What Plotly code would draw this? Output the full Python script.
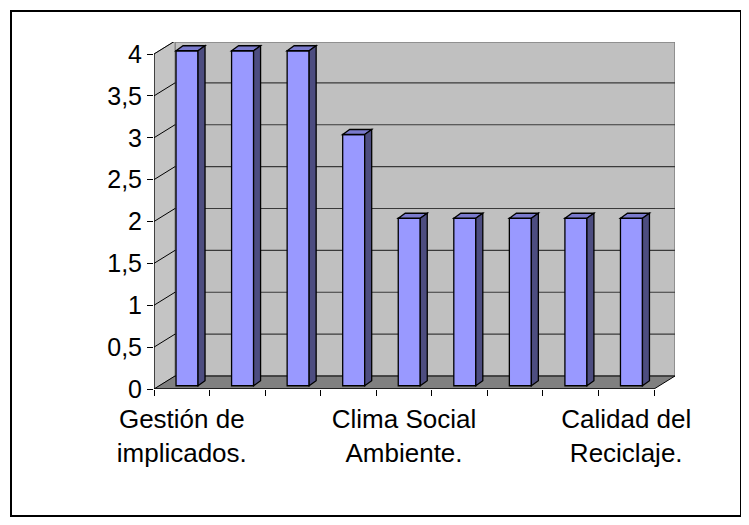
import plotly.graph_objects as go

# ---------------- data ----------------
values = [4, 4, 4, 3, 2, 2, 2, 2, 2]
label_positions = [0, 4, 8]
label_texts = ["Gestión de<br>implicados.", "Clima Social<br>Ambiente.", "Calidad del<br>Reciclaje."]
y_tick_values = [0, 0.5, 1, 1.5, 2, 2.5, 3, 3.5, 4]
y_tick_labels = ["0", "0,5", "1", "1,5", "2", "2,5", "3", "3,5", "4"]

# ---------------- geometry / style ----------------
# the page body has an 8px margin, so the figure is placed at (8, 8)
W, H = 741, 517
ML, MT = 146, 34
PW, PH = 521, 347
MR, MB = W - ML - PW, H - MT - PH
N = len(values)
FRONT_PX = 500.0                 # front axis length in px
XS = FRONT_PX / N                # px per category
YS = 83.75                       # px per value unit
X_MIN = -0.5
X_MAX = X_MIN + PW / XS
Y_MAX = PH / YS
YMAXV = max(y_tick_values)

WALL_DX, WALL_DY = 21 / XS, 13 / YS      # depth of the 3D box
BAR_F = 0.25                              # bar position inside depth
BAR_OX, BAR_OY = BAR_F * WALL_DX, BAR_F * WALL_DY
BAR_W = 22 / XS
BAR_DX, BAR_DY = 7 / XS, 5 / YS

C_FRONT, C_TOP, C_SIDE = "#9999FF", "#7A7ACC", "#4D4D80"
C_WALL, C_SIDEWALL, C_FLOOR = "#C0C0C0", "#C4C4C4", "#808080"
FONT = "Arial, Liberation Sans, sans-serif"


def poly(pts):
    return "M " + " L ".join(f"{x},{y}" for x, y in pts) + " Z"


shapes = []
# back wall
shapes.append(dict(type="rect", xref="x", yref="y", layer="below",
                   x0=X_MIN + WALL_DX, x1=X_MAX, y0=WALL_DY, y1=Y_MAX,
                   fillcolor=C_WALL, line=dict(color="#808080", width=1.5)))
# back wall gridlines
for v in y_tick_values[1:-1]:
    shapes.append(dict(type="line", xref="x", yref="y", layer="below",
                       x0=X_MIN + WALL_DX, x1=X_MAX, y0=v + WALL_DY, y1=v + WALL_DY,
                       line=dict(color="#3a3a3a", width=1.2)))
# side wall
shapes.append(dict(type="path", xref="x", yref="y", layer="below",
                   path=poly([(X_MIN, 0), (X_MIN, YMAXV), (X_MIN + WALL_DX, YMAXV + WALL_DY),
                              (X_MIN + WALL_DX, WALL_DY)]),
                   fillcolor=C_SIDEWALL, line=dict(color="#808080", width=1)))
for v in y_tick_values[1:]:
    shapes.append(dict(type="line", xref="x", yref="y", layer="below",
                       x0=X_MIN, x1=X_MIN + WALL_DX, y0=v, y1=v + WALL_DY,
                       line=dict(color="black", width=1)))
# floor
X_END = X_MIN + N
shapes.append(dict(type="path", xref="x", yref="y", layer="below",
                   path=poly([(X_MIN, 0), (X_END, 0), (X_END + WALL_DX, WALL_DY),
                              (X_MIN + WALL_DX, WALL_DY)]),
                   fillcolor=C_FLOOR, line=dict(color="black", width=1)))
# front axis lines
shapes.append(dict(type="line", xref="x", yref="y", x0=X_MIN, x1=X_END, y0=0, y1=0,
                   line=dict(color="black", width=1.2)))
shapes.append(dict(type="line", xref="x", yref="y", x0=X_MIN, x1=X_MIN, y0=0, y1=YMAXV,
                   line=dict(color="black", width=1.2)))

# 3D faces of bars (top and side)
for i, v in enumerate(values):
    xl = i - BAR_W / 2 + BAR_OX
    xr = xl + BAR_W
    yb = BAR_OY
    yt = BAR_OY + v
    shapes.append(dict(type="path", xref="x", yref="y", layer="above",
                       path=poly([(xl, yt), (xr, yt), (xr + BAR_DX, yt + BAR_DY), (xl + BAR_DX, yt + BAR_DY)]),
                       fillcolor=C_TOP, line=dict(color="black", width=1.3)))
    shapes.append(dict(type="path", xref="x", yref="y", layer="above",
                       path=poly([(xr, yb), (xr, yt), (xr + BAR_DX, yt + BAR_DY), (xr + BAR_DX, yb + BAR_DY)]),
                       fillcolor=C_SIDE, line=dict(color="black", width=1.3)))


# outer frame (paper coords)
def px2paper_x(px):
    return (px - ML) / PW


def px2paper_y(py):
    return (H - MB - py) / PH


shapes.append(dict(type="rect", xref="paper", yref="paper",
                   x0=px2paper_x(3), x1=px2paper_x(733), y0=px2paper_y(3), y1=px2paper_y(508),
                   line=dict(color="black", width=2), fillcolor="rgba(0,0,0,0)", layer="below"))

fig = go.Figure()
fig.add_trace(go.Bar(
    x=list(range(N)), y=values, base=[BAR_OY] * N,
    width=BAR_W, offset=-BAR_W / 2 + BAR_OX,
    marker=dict(color=C_FRONT, line=dict(color="black", width=1.3)),
    hoverinfo="skip", showlegend=False,
))

fig.update_layout(
    width=W, height=H, autosize=False,
    margin=dict(l=ML, r=MR, t=MT, b=MB, pad=0),
    paper_bgcolor="white", plot_bgcolor="rgba(0,0,0,0)",
    font=dict(family=FONT, size=25, color="black"),
    shapes=shapes,
    showlegend=False,
    xaxis=dict(range=[X_MIN, X_MAX], tickmode="array", tickvals=label_positions,
               ticktext=label_texts, ticks="", showgrid=False, zeroline=False,
               showline=False, fixedrange=True, ticklabelstandoff=12,
               tickfont=dict(size=26, family=FONT),
               minor=dict(tickmode="linear", tick0=X_MIN, dtick=1, ticks="outside",
                          ticklen=6, tickcolor="black", tickwidth=1.2, showgrid=False)),
    yaxis=dict(range=[0, Y_MAX], tickmode="array", tickvals=y_tick_values,
               ticktext=y_tick_labels, ticks="outside", ticklen=6, tickcolor="black",
               tickwidth=1.2, showgrid=False, zeroline=False, showline=False,
               fixedrange=True, tickfont=dict(size=25, family=FONT)),
)

fig.write_html("out.html")
